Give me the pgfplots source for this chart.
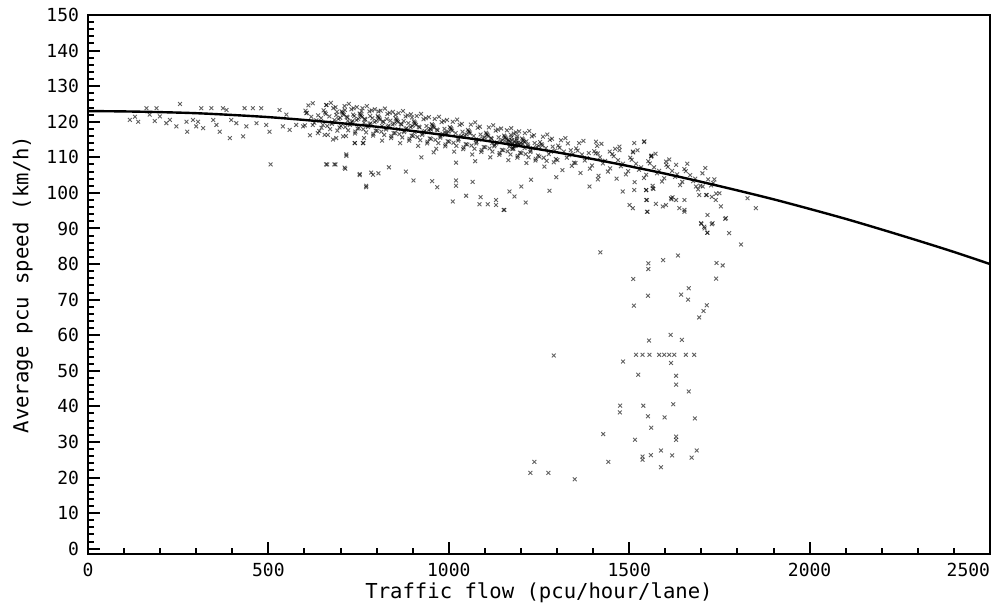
\documentclass[border=0pt]{standalone}
\usepackage{fontspec}
\setmainfont{DejaVu Sans Mono}
\usepackage{pgfplots}
\pgfplotsset{compat=1.18}
\begin{document}
\begin{tikzpicture}
\begin{axis}[
    scale only axis,
    width=451pt, height=269.5pt,
    xmin=0, xmax=2500,
    ymin=-1.5, ymax=150,
    xtick={0,500,1000,1500,2000,2500},
    xticklabels={0,500,1000,1500,2000,\makebox[0pt][r]{2500}},
    ytick={0,10,...,150},
    minor x tick num=4,
    minor y tick num=4,
    tick pos=left,
    tick align=inside,
    major tick length=6pt,
    minor tick length=3pt,
    every tick/.style={black, line width=1pt},
    axis line style={line width=1.1pt},
    /pgf/number format/assume math mode=true,
    /pgf/number format/1000 sep={},
    ticklabel style={font=\fontsize{9}{10}\selectfont},
    xticklabel style={yshift=-1pt},
    yticklabel style={xshift=-1pt},
    xlabel={Traffic flow (pcu/hour/lane)},
    ylabel={Average pcu speed (km/h)},
    label style={font=\fontsize{10.3}{12}\selectfont},
    xlabel style={yshift=4pt},
    ylabel style={yshift=0pt},
    clip=true,
]
% scattered observations
\addplot[only marks, mark=x, mark size=1.35pt, draw=black, draw opacity=0.62, mark options={line width=0.45pt}] coordinates {
(116,120.5) (130,121.4) (139,120.0) (162,123.8) (190,123.8) (171,122.0) (185,120.2) (199,121.5) (217,119.6) (227,120.5)
(245,118.7) (255,125.0) (273,120.0) (275,117.2) (291,120.5) (300,118.7) (305,120.0) (314,123.8) (319,118.2) (342,123.8)
(347,120.5) (356,119.1) (365,117.2) (374,123.8) (384,123.3) (393,115.4) (397,120.5) (411,119.6) (430,115.9) (434,123.8)
(439,118.7) (457,123.8) (467,119.6) (480,123.8) (494,119.1) (503,117.2) (531,123.3) (540,118.7) (550,122.0) (559,117.7)
(577,119.1) (596,118.7) (605,122.4) (623,119.1) (637,116.8) (646,121.0) (660,124.7) (656,116.3) (679,115.0) (688,115.4)
(707,115.9) (716,110.8) (739,114.0) (762,114.0) (660,108.0) (683,108.0) (711,107.1) (753,105.3) (771,102.0) (785,105.7)
(506,108.0) (663,108.0) (686,108.0) (713,106.8) (716,110.4) (740,114.0) (763,114.0) (753,105.0) (771,101.6) (790,105.1)
(805,105.5) (834,107.2) (881,106.0) (902,103.5) (924,110.0) (954,103.3) (958,111.4) (968,101.6) (1020,108.5) (1020,103.5)
(1020,102.0) (1048,99.2) (1066,103.1) (1073,108.9) (1011,97.6) (1088,98.8) (1085,96.8) (1108,96.8) (1131,96.6) (1131,98.0)
(1154,95.2)
(603,123.1) (627,119.7) (611,124.6) (641,117.4) (619,121.4) (633,120.4) (607,122.5) (647,118.3) (623,125.2) (615,116.2)
(638,121.8) (601,119.0)
(653,123.2) (677,119.8) (661,124.7) (691,117.5) (669,121.5) (683,120.5) (657,122.6) (697,118.4) (673,125.3) (665,116.3)
(688,121.9) (651,119.1) (680,123.8) (694,120.8) (659,122.2) (671,117.9) (686,124.1) (663,118.8) (699,121.1) (676,119.4)
(703,122.9) (727,119.5) (711,124.4) (741,117.2) (719,121.2) (733,120.2) (707,122.3) (747,118.1) (723,125.0) (715,116.0)
(738,121.6) (701,118.8) (730,123.5) (744,120.5) (709,121.9) (721,117.6) (736,123.8) (713,118.5) (749,120.8) (726,119.1)
(705,122.6) (740,116.7) (717,121.4) (731,119.9) (745,124.1)
(753,122.3) (777,118.9) (761,123.8) (791,116.6) (769,120.6) (783,119.6) (757,121.7) (797,117.5) (773,124.4) (765,115.4)
(788,121.0) (751,118.2) (780,122.9) (794,119.9) (759,121.3) (771,117.0) (786,123.2) (763,117.9) (799,120.2) (776,118.5)
(755,122.0) (790,116.1) (767,120.8) (781,119.3) (795,123.5)
(803,121.6) (827,118.2) (811,123.1) (841,115.9) (819,119.9) (833,118.9) (807,121.0) (847,116.8) (823,123.7) (815,114.7)
(838,120.3) (801,117.5) (830,122.2) (844,119.2) (809,120.6) (821,116.3) (836,122.5) (813,117.2) (849,119.5) (826,117.8)
(805,121.3) (840,115.4) (817,120.1) (831,118.6) (845,122.8)
(853,120.9) (877,117.5) (861,122.4) (891,115.2) (869,119.2) (883,118.2) (857,120.3) (897,116.1) (873,123.0) (865,114.0)
(888,119.6) (851,116.8) (880,121.5) (894,118.5) (859,119.9) (871,115.6) (886,121.8) (863,116.5) (899,118.8) (876,117.1)
(855,120.6) (890,114.7) (867,119.4) (881,117.9) (895,122.1)
(903,120.1) (927,116.7) (911,121.6) (941,114.4) (919,118.4) (933,117.4) (907,119.5) (947,115.3) (923,122.2) (915,113.2)
(938,118.8) (901,116.0) (930,120.7) (944,117.7) (909,119.1) (921,114.8) (936,121.0) (913,115.7) (949,118.0) (926,116.3)
(905,119.8) (940,113.9) (917,118.6) (931,117.1) (945,121.3)
(953,119.3) (977,115.9) (961,120.8) (991,113.6) (969,117.6) (983,116.6) (957,118.7) (997,114.5) (973,121.4) (965,112.4)
(988,118.0) (951,115.2) (980,119.9) (994,116.9) (959,118.3) (971,114.0) (986,120.2) (963,114.9) (999,117.2) (976,115.5)
(955,119.0) (990,113.1) (967,117.8) (981,116.3) (995,120.5)
(1003,118.5) (1027,115.1) (1011,120.0) (1041,112.8) (1019,116.8) (1033,115.8) (1007,117.9) (1047,113.7) (1023,120.6) (1015,111.6)
(1038,117.2) (1001,114.4) (1030,119.1) (1044,116.1) (1009,117.5) (1021,113.2) (1036,119.4) (1013,114.1) (1049,116.4) (1026,114.7)
(1005,118.2) (1040,112.3)
(1053,117.7) (1077,114.3) (1061,119.2) (1091,112.0) (1069,116.0) (1083,115.0) (1057,117.1) (1097,112.9) (1073,119.8) (1065,110.8)
(1088,116.4) (1051,113.6) (1080,118.3) (1094,115.3) (1059,116.7) (1071,112.4) (1086,118.6) (1063,113.3) (1099,115.6) (1076,113.9)
(1055,117.4) (1090,111.5)
(1103,116.9) (1127,113.5) (1111,118.4) (1141,111.2) (1119,115.2) (1133,114.2) (1107,116.3) (1147,112.1) (1123,119.0) (1115,110.0)
(1138,115.6) (1101,112.8) (1130,117.5) (1144,114.5) (1109,115.9) (1121,111.6) (1136,117.8) (1113,112.5) (1149,114.8) (1126,113.1)
(1105,116.6) (1140,110.7) (1117,115.4) (1131,113.9) (1145,118.1)
(1153,116.1) (1177,112.7) (1161,117.6) (1191,110.4) (1169,114.4) (1183,113.4) (1157,115.5) (1197,111.3) (1173,118.2) (1165,109.2)
(1188,114.8) (1151,112.0) (1180,116.7) (1194,113.7) (1159,115.1) (1171,110.8) (1186,117.0) (1163,111.7) (1199,114.0) (1176,112.3)
(1155,115.8) (1190,109.9) (1167,114.6) (1181,113.1) (1195,117.3)
(1160,114.2) (1165,115.0) (1170,113.6) (1175,114.8) (1178,113.9) (1182,114.5) (1185,113.2) (1188,115.3) (1192,114.1) (1196,113.5)
(1174,115.6) (1168,113.0) (1179,112.4) (1186,114.0) (1190,115.9) (1172,116.3) (1205,113.8) (1210,112.6) (1215,114.5) (1220,113.1)
(690,122.8) (712,123.3) (735,122.0) (758,123.0) (782,121.6) (805,122.9) (828,120.8) (852,121.9) (875,120.2) (898,121.2)
(720,120.3) (765,119.7) (815,118.8) (860,117.9) (905,117.1) (950,117.8) (990,116.9) (1035,116.0) (1075,114.9) (1120,114.0)
(1203,115.3) (1227,111.9) (1211,116.8) (1241,109.6) (1219,113.6) (1233,112.6) (1207,114.7) (1247,110.5) (1223,117.4) (1215,108.4)
(1238,114.0) (1201,111.2) (1230,115.9) (1244,112.9) (1209,114.3) (1221,110.0) (1236,116.2) (1213,110.9) (1249,113.2) (1226,111.5)
(1205,115.0) (1240,109.1)
(1253,114.3) (1277,110.9) (1261,115.8) (1291,108.6) (1269,112.6) (1283,111.6) (1257,113.7) (1297,109.5) (1273,116.4) (1265,107.4)
(1288,113.0) (1251,110.2) (1280,114.9) (1294,111.9) (1259,113.3) (1271,109.0) (1286,115.2) (1263,109.9)
(1303,113.3) (1327,109.9) (1311,114.8) (1341,107.6) (1319,111.6) (1333,110.6) (1307,112.7) (1347,108.5) (1323,115.4) (1315,106.4)
(1338,112.0) (1301,109.2) (1330,113.9) (1344,110.9)
(1353,112.5) (1377,109.1) (1361,114.0) (1391,106.8) (1369,110.8) (1383,109.8) (1357,111.9) (1397,107.7) (1373,114.6) (1365,105.6)
(1388,111.2) (1351,108.4)
(1403,111.7) (1427,108.3) (1411,113.2) (1441,106.0) (1419,110.0) (1433,109.0) (1407,111.1) (1447,106.9) (1423,113.8) (1415,104.8)
(1453,110.9) (1477,107.5) (1461,112.4) (1491,105.2) (1469,109.2) (1483,108.2) (1457,110.3) (1497,106.1) (1473,113.0) (1465,104.0)
(1503,109.9) (1527,106.5) (1511,111.4) (1541,104.2) (1519,108.2) (1533,107.2) (1507,109.3) (1547,105.1) (1523,112.0) (1515,103.0)
(1553,108.9) (1577,105.5) (1561,110.4) (1591,103.2) (1569,107.2) (1583,106.2) (1557,108.3) (1597,104.1) (1573,111.0) (1565,102.0)
(1603,107.9) (1627,104.5) (1611,109.4) (1641,102.2) (1619,106.2) (1633,105.2) (1607,107.3) (1647,103.1)
(1653,106.7) (1677,103.3) (1661,108.2) (1691,101.0) (1669,105.0) (1683,104.0) (1657,106.1) (1697,102.0)
(1703,105.5) (1727,102.1) (1711,107.0) (1741,99.8) (1719,103.8) (1733,102.8)
(1168,100.4) (1182,99.0) (1201,101.8) (1228,103.7) (1279,100.6) (1152,95.2) (1213,97.3) (1298,104.4) (1390,101.8) (1413,103.8)
(1482,100.4) (1514,100.8) (1547,100.8) (1565,101.3) (1547,98.0) (1501,96.6) (1510,95.7) (1551,94.7) (1574,96.9) (1593,96.2)
(1602,96.6) (1616,98.5) (1630,98.0) (1653,98.0) (1639,95.7) (1653,94.7) (1694,99.4) (1713,99.4) (1717,93.8) (1699,91.5)
(1708,90.5) (1731,91.5) (1768,92.9) (1740,98.0) (1754,96.2) (1828,98.5) (1851,95.7) (1514,114.0) (1542,114.5) (1510,111.6)
(1473,112.0) (1561,110.2) (1602,108.8) (1630,107.9) (1685,101.8) (1704,101.8) (1736,103.8) (1750,99.9) (1408,114.4) (1413,111.1)
(1446,111.6) (1541,114.3) (1562,110.5) (1547,100.8) (1567,101.1) (1549,98.0) (1549,94.7) (1617,98.2) (1620,98.8) (1653,95.2)
(1700,91.3) (1709,90.0) (1717,88.8) (1729,91.2) (1766,92.7) (1715,99.4) (1729,98.9)
(1716,88.8) (1777,88.7) (1810,85.5) (1420,83.3) (1553,80.2) (1553,78.6) (1594,81.1) (1635,82.4) (1742,80.3) (1759,79.6)
(1511,75.8) (1741,75.9) (1665,73.2) (1552,71.1) (1644,71.4) (1663,70.0) (1513,68.3) (1715,68.4) (1706,66.8) (1694,65.0)
(1615,60.1) (1646,58.7) (1555,58.5) (1519,54.5) (1537,54.5) (1556,54.5) (1583,54.5) (1597,54.5) (1611,54.5) (1625,54.5)
(1657,54.5) (1680,54.5) (1291,54.3) (1483,52.6) (1616,52.2) (1525,48.9) (1630,48.6) (1630,46.1) (1665,44.2) (1475,40.2)
(1474,38.3) (1539,40.2) (1622,40.6) (1552,37.2) (1598,36.9) (1682,36.6) (1561,34.0) (1428,32.2) (1516,30.6) (1630,31.5)
(1630,30.6) (1588,27.6) (1687,27.6) (1560,26.3) (1537,25.9) (1537,25.0) (1619,26.2) (1673,25.6) (1588,22.9) (1237,24.4)
(1226,21.3) (1276,21.3) (1442,24.4) (1349,19.5)
};
% fitted speed-flow curve
\addplot[black, line width=1.2pt, smooth, no marks] coordinates {
(0,123.0) (100,122.9) (200,122.7) (300,122.4) (400,121.9) (500,121.3) (600,120.5) (700,119.6) (800,118.6) (900,117.4)
(1000,116.1) (1100,114.7) (1200,113.1) (1300,111.4) (1400,109.5) (1500,107.5) (1600,105.4) (1700,103.1) (1800,100.7)
(1900,98.2) (2000,95.5) (2100,92.7) (2200,89.7) (2300,86.6) (2400,83.4) (2500,80.0)
};
\end{axis}
\pgfresetboundingbox
\path ([shift={(-44pt,-29pt)}]current axis.south west) rectangle ([shift={(3.5pt,7.5pt)}]current axis.north east);
\end{tikzpicture}
\end{document}
